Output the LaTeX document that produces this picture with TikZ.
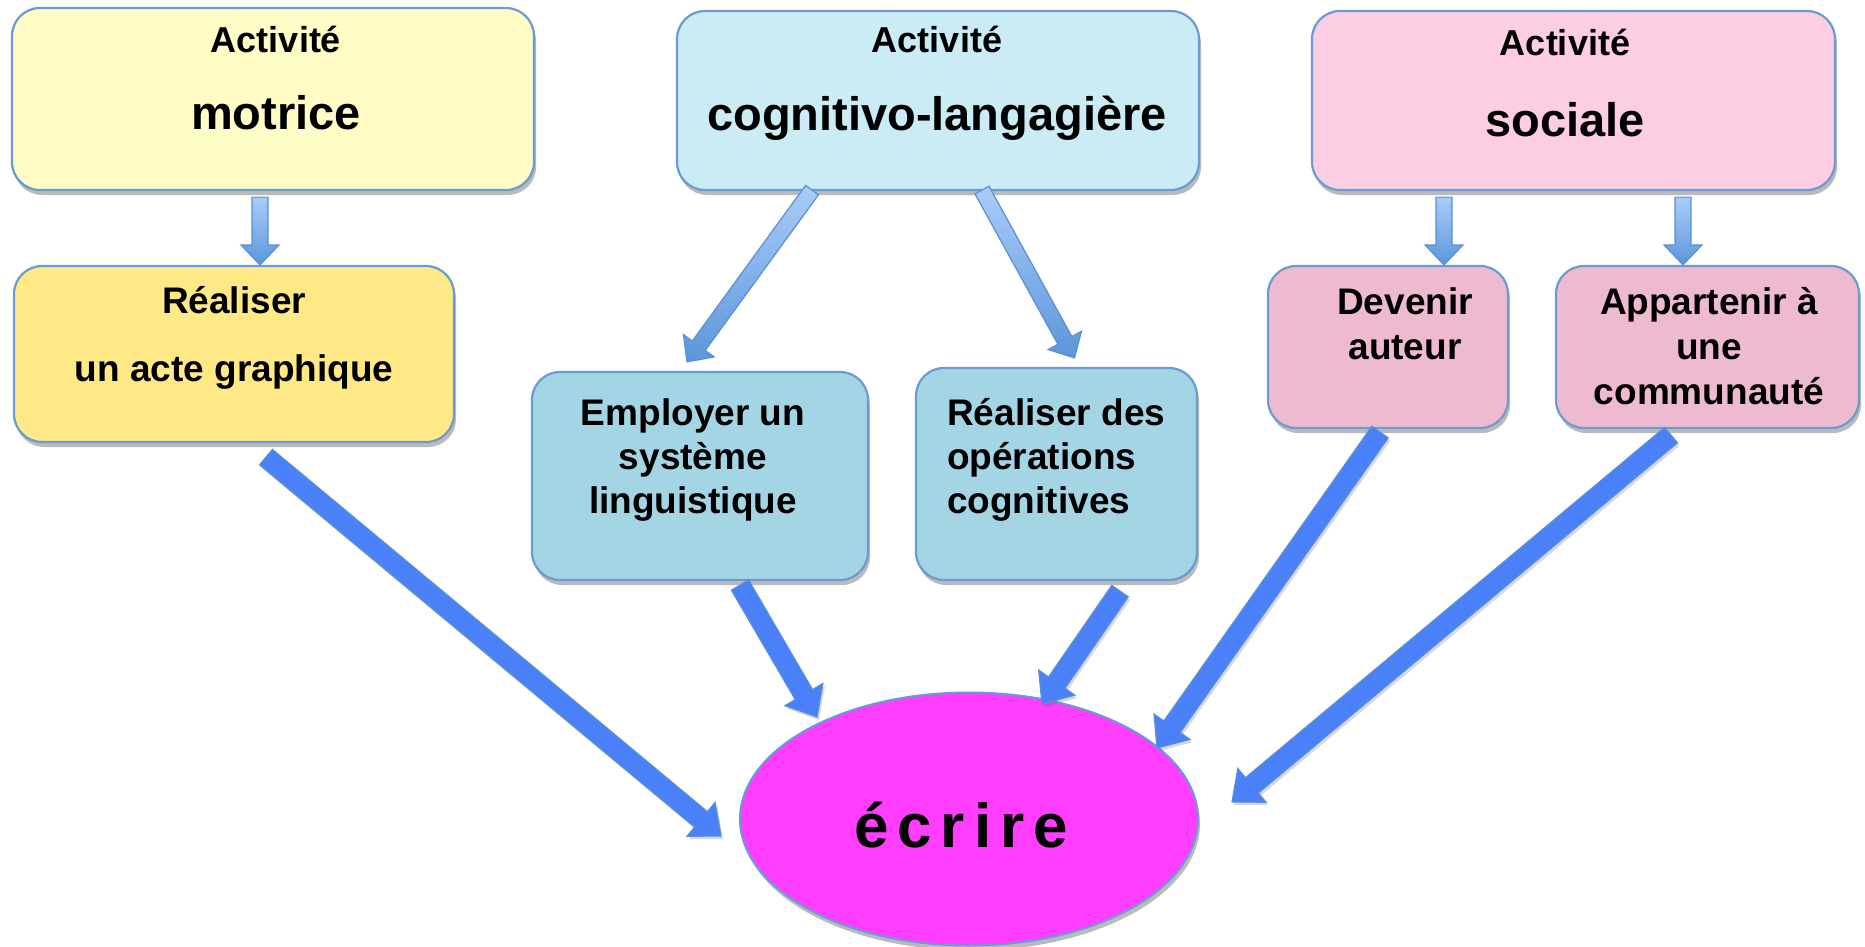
\documentclass[tikz,border=0pt]{standalone}
\usepackage{fontspec}
\setmainfont{Liberation Sans}
\usetikzlibrary{calc,shapes.geometric,shadows}

\definecolor{bordc}{HTML}{6A9BD3}
\definecolor{ylight}{HTML}{FFFCC6}
\definecolor{ydark}{HTML}{FFE986}
\definecolor{blight}{HTML}{CBEBF5}
\definecolor{bdark}{HTML}{A4D5E4}
\definecolor{plight}{HTML}{FDCDE3}
\definecolor{pdark}{HTML}{EEBACF}
\definecolor{magen}{HTML}{FF3DFF}
\definecolor{arrfill}{HTML}{4A80F8}
\definecolor{arrbord}{HTML}{5A8FD6}
\definecolor{sarrtop}{HTML}{AACCF8}
\definecolor{sarrbot}{HTML}{5B96DA}

\newcommand\blockarr[6]{%
  \coordinate (hb) at ($(#2)!#5!(#1)$);
  \path[#6] ($(#1)!#3!90:(#2)$) -- ($(hb)!#3!90:(#2)$) -- ($(hb)!#4!90:(#2)$)
     -- (#2) -- ($(hb)!#4!-90:(#2)$) -- ($(hb)!#3!-90:(#2)$) -- ($(#1)!#3!-90:(#2)$) -- cycle;
}

\tikzset{
  shd/.style={drop shadow={shadow xshift=2pt, shadow yshift=-5pt, opacity=0.45, fill=black!60}},
  boxbase/.style={draw=bordc, line width=2.2pt, rounded corners=28pt, inner sep=0pt, shd},
  topbox/.style={boxbase},
  subbox/.style={boxbase},
  lblsmall/.style={font=\fontsize{36}{43}\selectfont\bfseries, anchor=base, inner sep=0pt},
  lblbig/.style={font=\fontsize{47}{56}\selectfont\bfseries, anchor=base, inner sep=0pt},
  lblsub/.style={font=\fontsize{37}{45}\selectfont\bfseries, anchor=base, inner sep=0pt},
  smallarr/.style={draw=arrbord, line width=1.2pt, top color=sarrtop, bottom color=sarrbot, line join=miter},
  bigarr/.style={draw=arrbord, line width=1.2pt, fill=arrfill, line join=miter,
     drop shadow={shadow xshift=2pt, shadow yshift=-3pt, opacity=0.25, fill=black!60}},
}

\begin{document}
\begin{tikzpicture}[x=1pt,y=-1pt]
\useasboundingbox[fill=white] (0,0) rectangle (1865,947);

% top boxes
\node[topbox, fill=ylight, minimum width=522pt, minimum height=182pt] (mot) at (273,99) {};
\node[topbox, fill=blight, minimum width=522pt, minimum height=179pt] (cog) at (938,100.5) {};
\node[topbox, fill=plight, minimum width=523pt, minimum height=179pt] (soc) at (1573.5,100.5) {};

\node[lblsmall] (motA) at (276,53) {Activité};
\node[lblbig] (motB) at (276,130) {motrice};
\node[lblsmall] (cogA) at (937,53) {Activité};
\node[lblbig] (cogB) at (937,131) {cognitivo-langagière};
\node[lblsmall] (socA) at (1565,56) {Activité};
\node[lblbig] (socB) at (1565,136) {sociale};

% second-level boxes
\node[subbox, fill=ydark, minimum width=440pt, minimum height=176pt] (real) at (234,354) {};
\node[subbox, fill=bdark, minimum width=336pt, minimum height=208pt] (emp) at (700,476) {};
\node[subbox, fill=bdark, minimum width=281pt, minimum height=212pt] (rdo) at (1056.5,474) {};
\node[subbox, fill=pdark, minimum width=240pt, minimum height=162pt] (dev) at (1388,347) {};
\node[subbox, fill=pdark, minimum width=303pt, minimum height=162pt] (app) at (1707.5,347) {};

\node[lblsub] (realA) at (234,313) {Réaliser};
\node[lblsub] (realB) at (234,381) {un acte graphique};
\node[lblsub] (empA) at (693,425) {Employer un};
\node[lblsub] (empB) at (693,469) {système};
\node[lblsub] (empC) at (693,513) {linguistique};
\node[lblsub, anchor=base west] (rdoA) at (947,425) {Réaliser des};
\node[lblsub, anchor=base west] (rdoB) at (947,469) {opérations};
\node[lblsub, anchor=base west] (rdoC) at (947,513) {cognitives};
\node[lblsub] (devA) at (1405,314) {Devenir};
\node[lblsub] (devB) at (1405,359) {auteur};
\node[lblsub] (appA) at (1709,314) {Appartenir à};
\node[lblsub] (appB) at (1709,359) {une};
\node[lblsub] (appC) at (1709,404) {communauté};

% central ellipse
\node[ellipse, draw=bordc, line width=2pt, fill=magen, minimum width=458pt, minimum height=253pt, inner sep=0pt, shd] (ec) at (969,819) {};
\node[font=\fontsize{62}{70}\selectfont\bfseries, anchor=base, inner sep=0pt] (ectx) at (961,847)
  {é\kern9pt c\kern9pt r\kern9pt i\kern9pt r\kern9pt e};

% connector end points
\coordinate (a1s) at ($(mot.south)+(-13,6)$);
\coordinate (a1t) at (a1s |- real.north);
\coordinate (a2s) at ($(cog.south)+(-126,-1)$);
\coordinate (a2t) at ($(emp.north)+(-13,-9)$);
\coordinate (a3s) at ($(cog.south)+(44,-1)$);
\coordinate (a3t) at ($(rdo.north)+(18,-9)$);
\coordinate (a4s) at ($(soc.south)+(-129.5,6)$);
\coordinate (a4t) at (a4s |- dev.north);
\coordinate (a5s) at ($(soc.south)+(109.5,6)$);
\coordinate (a5t) at (a5s |- app.north);

\coordinate (b1s) at ($(real.south)+(32,14)$);
\coordinate (b1t) at ($(ec.west)+(-18,17)$);
\coordinate (b2s) at ($(emp.south)+(40,4)$);
\coordinate (b2t) at ($(ec.center)+(-152,-102)$);
\coordinate (b3s) at ($(rdo.south)+(63.5,10)$);
\coordinate (b3t) at ($(ec.center)+(73,-115)$);
\coordinate (b4s) at ($(dev.south)+(-8,3)$);
\coordinate (b4t) at ($(ec.center)+(188,-71)$);
\coordinate (b5s) at ($(app.south)+(-36.5,6)$);
\coordinate (b5t) at ($(ec.center)+(263,-17)$);

% small arrows
\blockarr{a1s}{a1t}{8pt}{19pt}{20pt}{smallarr}
\blockarr{a2s}{a2t}{8pt}{19pt}{20pt}{smallarr}
\blockarr{a3s}{a3t}{8pt}{19pt}{20pt}{smallarr}
\blockarr{a4s}{a4t}{8pt}{19pt}{20pt}{smallarr}
\blockarr{a5s}{a5t}{8pt}{19pt}{20pt}{smallarr}

% big arrows
\blockarr{b1s}{b1t}{10pt}{22pt}{26pt}{bigarr}
\blockarr{b2s}{b2t}{10pt}{22pt}{26pt}{bigarr}
\blockarr{b3s}{b3t}{10pt}{22pt}{26pt}{bigarr}
\blockarr{b4s}{b4t}{10pt}{22pt}{26pt}{bigarr}
\blockarr{b5s}{b5t}{10pt}{22pt}{26pt}{bigarr}
\end{tikzpicture}
\end{document}
